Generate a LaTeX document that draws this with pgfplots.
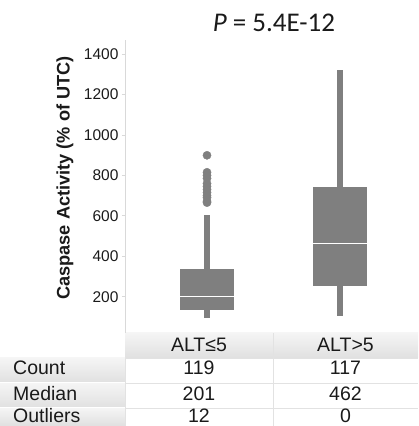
\documentclass[border=0pt]{standalone}
\usepackage{fontspec}
\setmainfont{Liberation Sans}
\newfontfamily\calibri{Carlito}
\usepackage{pgfplots}
\pgfplotsset{compat=1.18}
\definecolor{boxgray}{HTML}{7F7F7F}
\definecolor{axgray}{HTML}{D9D9D9}
\definecolor{hdrtop}{HTML}{F5F5F5}
\definecolor{hdrbot}{HTML}{E0E0E0}
\definecolor{gridgray}{HTML}{E2E2E2}
\definecolor{txt}{HTML}{1A1A1A}
\begin{document}
\begin{tikzpicture}
\begin{scope}[x=1pt,y=1pt]
\useasboundingbox (0,0) rectangle (418,426);
% ---- table backgrounds ----
\shade[top color=hdrtop,bottom color=hdrbot] (125,68) rectangle (418,93);
\shade[top color=hdrtop,bottom color=hdrbot] (0,43) rectangle (125,68);
\shade[top color=hdrtop,bottom color=hdrbot] (0,18) rectangle (125,43);
\shade[top color=hdrtop,bottom color=hdrbot] (0,0) rectangle (125,18);
\draw[white,line width=1pt] (0,43) -- (125,43) (0,18) -- (125,18);
\draw[gridgray,line width=0.8pt] (125,68) -- (418,68) (125,43) -- (418,43) (125,18) -- (418,18);
\draw[gridgray,line width=0.8pt] (273,0) -- (273,93);
\draw[gridgray,line width=0.8pt] (125,0) -- (125,68);
% ---- table text ----
\begin{scope}[every node/.style={font=\fontsize{19.5}{20}\selectfont, text=txt, inner sep=0pt}]
\node[anchor=base] at (199,74.3) {ALT≤5};
\node[anchor=base] at (345.5,74.3) {ALT>5};
\node[anchor=base west] at (13,51) {Count};
\node[anchor=base west] at (13,25.5) {Median};
\node[anchor=base west] at (13,4) {Outliers};
\node[anchor=base] at (199,51) {119};
\node[anchor=base] at (345.5,51) {117};
\node[anchor=base] at (199,25.5) {201};
\node[anchor=base] at (345.5,25.5) {462};
\node[anchor=base] at (199,4) {12};
\node[anchor=base] at (345.5,4) {0};
\end{scope}
% ---- title ----
\node[anchor=base, inner sep=0pt, text=txt] at (274,394) {\calibri\fontsize{27}{28}\selectfont\itshape P\upshape{} = 5.4E-12};
\end{scope}
% ---- plot ----
\begin{axis}[
  at={(125pt,93pt)}, anchor=south west,
  scale only axis, width=293pt, height=293pt,
  xmin=0.3835, xmax=2.586, ymin=20.5, ymax=1469,
  axis x line=none, axis y line*=left,
  axis line style={axgray, line width=0.8pt, -},
  ytick={200,400,...,1400},
  tick style={axgray, line width=0.6pt},
  major tick length=3pt, tick align=outside,
  yticklabel style={font=\fontsize{15.5}{16}\selectfont, text=txt},
  /pgf/number format/assume math mode=true,
  /pgf/number format/1000 sep={},
  ylabel={\bfseries Caspase Activity (\% of UTC)},
  every axis y label/.style={at={(axis description cs:-0.2048,0.529)}, rotate=90, anchor=center, font=\fontsize{18.2}{19}\selectfont, text=txt},
  clip=false,
]
% group ALT<=5 (position 1)
\addplot[boxgray, line width=6pt] coordinates {(1,96) (1,603)};
\addplot[fill=boxgray, draw=none] coordinates {(0.795,134) (1.205,134) (1.205,337) (0.795,337)} -- cycle;
\addplot[white, line width=1pt] coordinates {(0.795,201) (1.205,201)};
\addplot[only marks, mark=*, mark size=4.1pt, mark options={fill=boxgray, draw=boxgray}]
  coordinates {(1,899) (1,815) (1,800) (1,785) (1,760) (1,745) (1,730) (1,715) (1,700) (1,690) (1,672) (1,665)};
% group ALT>5 (position 2)
\addplot[boxgray, line width=6pt] coordinates {(2,106) (2,1322)};
\addplot[fill=boxgray, draw=none] coordinates {(1.795,253) (2.205,253) (2.205,740) (1.795,740)} -- cycle;
\addplot[white, line width=1pt] coordinates {(1.795,462) (2.205,462)};
\end{axis}
\end{tikzpicture}
\end{document}
